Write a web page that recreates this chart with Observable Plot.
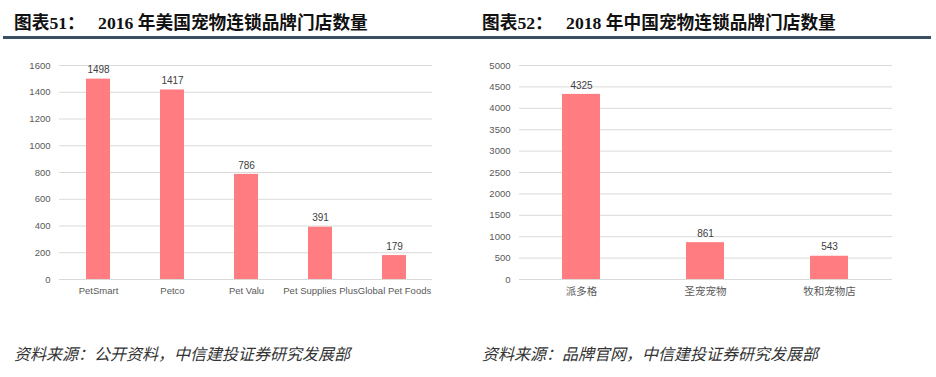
<!DOCTYPE html>
<html>
<head>
<meta charset="utf-8">
<script src="https://cdn.jsdelivr.net/npm/d3@7"></script>
<script src="https://cdn.jsdelivr.net/npm/@observablehq/plot@0.6"></script>
<style>
  html, body { margin: 0; padding: 0; background: #fff; }
  body { width: 936px; height: 377px; position: relative; overflow: hidden; }
  .panel { position: absolute; top: 0; width: 468px; height: 377px; }
  .title { position: absolute; top: 10px; left: 14px; font-family: "Liberation Serif", "Noto Sans CJK SC", serif; font-weight: bold; font-size: 17.7px; color: #111; white-space: nowrap; line-height: 22px; }
  .title .cn { font-family: "Noto Sans CJK SC", sans-serif; }
  .rule { position: absolute; top: 36px; height: 3px; background: #3b4f63; }
  .chart { position: absolute; top: 50px; left: 0; }
  .caption { position: absolute; top: 341px; left: 14px; font-family: "Noto Sans CJK SC", sans-serif; font-style: italic; font-size: 16px; color: #333; white-space: nowrap; }
  #chartR g[aria-label="x-axis tick label"] { font-size: 10.5px; }
</style>
</head>
<body>
<div class="panel" id="left" style="left:0">
  <div class="title"><span class="cn">图表</span>51<span class="cn">：</span>&nbsp;&nbsp; 2016 <span class="cn">年美国宠物连锁品牌门店数量</span></div>
  <div class="rule" style="left:3px; width:465px"></div>
  <div class="chart" id="chartL"></div>
  <div class="caption">资料来源：公开资料，中信建投证券研究发展部</div>
</div>
<div class="panel" id="right" style="left:468px">
  <div class="title"><span class="cn">图表</span>52<span class="cn">：</span>&nbsp;&nbsp; 2018 <span class="cn">年中国宠物连锁品牌门店数量</span></div>
  <div class="rule" style="left:0px; width:463px"></div>
  <div class="chart" id="chartR"></div>
  <div class="caption">资料来源：品牌官网，中信建投证券研究发展部</div>
</div>
<script>
const usBrands = ["PetSmart", "Petco", "Pet Valu", "Pet Supplies Plus", "Global Pet Foods"];
const usStores = [1498, 1417, 786, 391, 179];
const usTicks = [0, 200, 400, 600, 800, 1000, 1200, 1400, 1600];

const cnBrands = ["派多格", "圣宠宠物", "牧和宠物店"];
const cnStores = [4325, 861, 543];
const cnTicks = [0, 500, 1000, 1500, 2000, 2500, 3000, 3500, 4000, 4500, 5000];

const barColor = "#ff7c80";
const font = "'Liberation Sans', 'Noto Sans CJK SC', sans-serif";

function makeChart(brands, values, ticks, opts) {
  const data = brands.map((b, i) => ({brand: b, value: values[i]}));
  return Plot.plot({
    width: 468,
    height: 260,
    marginTop: 15,
    marginBottom: 31,
    marginLeft: opts.marginLeft,
    marginRight: opts.marginRight,
    style: {fontFamily: font, fontSize: "9.5px", color: "#595959", background: "transparent"},
    x: {domain: brands, paddingInner: opts.padding, paddingOuter: opts.padding / 2, label: null, tickSize: 0, tickPadding: 8},
    y: {domain: [0, ticks[ticks.length - 1]], ticks: ticks, tickFormat: d => String(d), label: null, tickSize: 0, tickPadding: 9},
    marks: [
      Plot.gridY(ticks, {stroke: "#d9d9d9", strokeOpacity: 1}),
      Plot.barY(data, {x: "brand", y: "value", fill: barColor}),
      Plot.text(data, {x: "brand", y: "value", text: d => String(d.value), dy: -9, fill: "#404040", fontSize: 10})
    ]
  });
}

document.getElementById("chartL").append(makeChart(usBrands, usStores, usTicks, {marginLeft: 59, marginRight: 36, padding: 0.68}));
document.getElementById("chartR").append(makeChart(cnBrands, cnStores, cnTicks, {marginLeft: 51, marginRight: 44, padding: 0.69}));
</script>
</body>
</html>
